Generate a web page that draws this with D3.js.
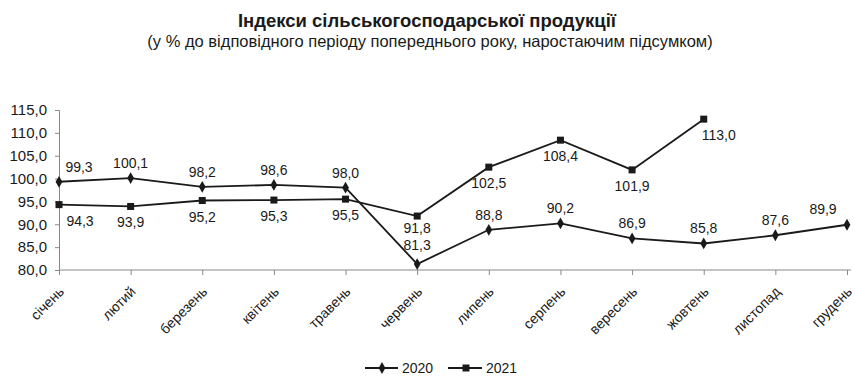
<!DOCTYPE html>
<html lang="uk">
<head>
<meta charset="UTF-8">
<title>Індекси сільськогосподарської продукції</title>
<script src="https://d3js.org/d3.v7.min.js"></script>
<style>
    body { margin: 0; background: #fff; }
    svg { display: block; font-family: "Liberation Sans", Arial, sans-serif; }
</style>
</head>
<body>
<svg id="chart" width="855" height="377"></svg>
<script>
// months (x categories)
const months = ["січень", "лютий", "березень", "квітень", "травень", "червень",
                "липень", "серпень", "вересень", "жовтень", "листопад", "грудень"];
// series values
const values2020 = [99.3, 100.1, 98.2, 98.6, 98.0, 81.3, 88.8, 90.2, 86.9, 85.8, 87.6, 89.9];
const values2021 = [94.3, 93.9, 95.2, 95.3, 95.5, 91.8, 102.5, 108.4, 101.9, 113.0];
// y ticks
const yTicks = [80, 85, 90, 95, 100, 105, 110, 115];

const svg = d3.select("#chart");
const fmt = v => d3.format(".1f")(v).replace(".", ",");
const ink = "#1a1a1a";

const x = d3.scalePoint().domain(months).range([59, 847]);
const y = d3.scaleLinear().domain([80, 115]).range([270, 110]);

// titles
svg.append("text").attr("x", 427).attr("y", 27).attr("text-anchor", "middle")
    .attr("font-size", 18.5).attr("font-weight", "bold").attr("fill", ink)
    .text("Індекси сільськогосподарської продукції");
svg.append("text").attr("x", 430).attr("y", 47).attr("text-anchor", "middle")
    .attr("font-size", 16.5).attr("fill", ink)
    .text("(у % до відповідного періоду попереднього року, наростаючим підсумком)");

// y axis
const yAxis = svg.append("g").attr("transform", "translate(59,0)")
    .call(d3.axisLeft(y).tickValues(yTicks).tickSize(4).tickPadding(8).tickFormat(fmt));
yAxis.select(".domain").attr("stroke", "#888");
yAxis.selectAll(".tick line").attr("stroke", "#888");
yAxis.selectAll("text").attr("font-size", 15).attr("fill", ink)
    .attr("font-family", "Liberation Sans, Arial, sans-serif");

// x axis
const xAxis = svg.append("g").attr("transform", "translate(0,270)")
    .call(d3.axisBottom(x).tickSize(5).tickSizeOuter(0));
xAxis.select(".domain").attr("stroke", "#888").attr("d", "M59,0H851");
xAxis.selectAll(".tick line").attr("stroke", "#888");
xAxis.selectAll("text")
    .attr("font-size", 14).attr("fill", ink)
    .attr("font-family", "Liberation Sans, Arial, sans-serif")
    .attr("text-anchor", "end")
    .attr("x", 0).attr("y", 0).attr("dy", "0.35em")
    .attr("transform", "translate(2,19) rotate(-45)");

const line = d3.line().x((d, i) => x(months[i])).y(d => y(d));

// 2020
svg.append("path").datum(values2020).attr("d", line)
    .attr("fill", "none").attr("stroke", ink).attr("stroke-width", 1.8);
svg.selectAll(".m2020").data(values2020).join("path")
    .attr("transform", (d, i) => `translate(${x(months[i])},${y(d)})`)
    .attr("d", d3.symbol(d3.symbolDiamond, 40)).attr("fill", ink);

// 2021
svg.append("path").datum(values2021).attr("d", line)
    .attr("fill", "none").attr("stroke", ink).attr("stroke-width", 1.8);
svg.selectAll(".m2021").data(values2021).join("rect")
    .attr("x", (d, i) => x(months[i]) - 3.5).attr("y", d => y(d) - 3.5)
    .attr("width", 7).attr("height", 7).attr("fill", ink);

// data labels: 2020 above, 2021 below
const last20 = values2020.length - 1, last21 = values2021.length - 1;
svg.selectAll(".l2020").data(values2020).join("text")
    .attr("x", (d, i) => x(months[i]) + (i === 0 ? 20 : i === last20 ? -24 : 0))
    .attr("y", (d, i) => y(d) - (i === last20 ? 11 : i === 5 ? 14 : 10))
    .attr("text-anchor", "middle").attr("font-size", 14).attr("fill", ink)
    .text(fmt);
svg.selectAll(".l2021").data(values2021).join("text")
    .attr("x", (d, i) => x(months[i]) + (i === 0 ? 21 : i === last21 ? 15 : 0))
    .attr("y", (d, i) => y(d) + (i === 5 ? 17 : 21))
    .attr("text-anchor", "middle").attr("font-size", 14).attr("fill", ink)
    .text(fmt);

// legend
const legend = svg.append("g").attr("transform", "translate(0,368)");
legend.append("line").attr("x1", 365).attr("x2", 398).attr("stroke", ink).attr("stroke-width", 1.8);
legend.append("path").attr("transform", "translate(382,0)").attr("d", d3.symbol(d3.symbolDiamond, 40)).attr("fill", ink);
legend.append("text").attr("x", 402).attr("y", 5).attr("font-size", 14).attr("fill", ink).text("2020");
legend.append("line").attr("x1", 448).attr("x2", 482).attr("stroke", ink).attr("stroke-width", 1.8);
legend.append("rect").attr("x", 462.5).attr("y", -3.5).attr("width", 7).attr("height", 7).attr("fill", ink);
legend.append("text").attr("x", 486).attr("y", 5).attr("font-size", 14).attr("fill", ink).text("2021");
</script>
</body>
</html>
